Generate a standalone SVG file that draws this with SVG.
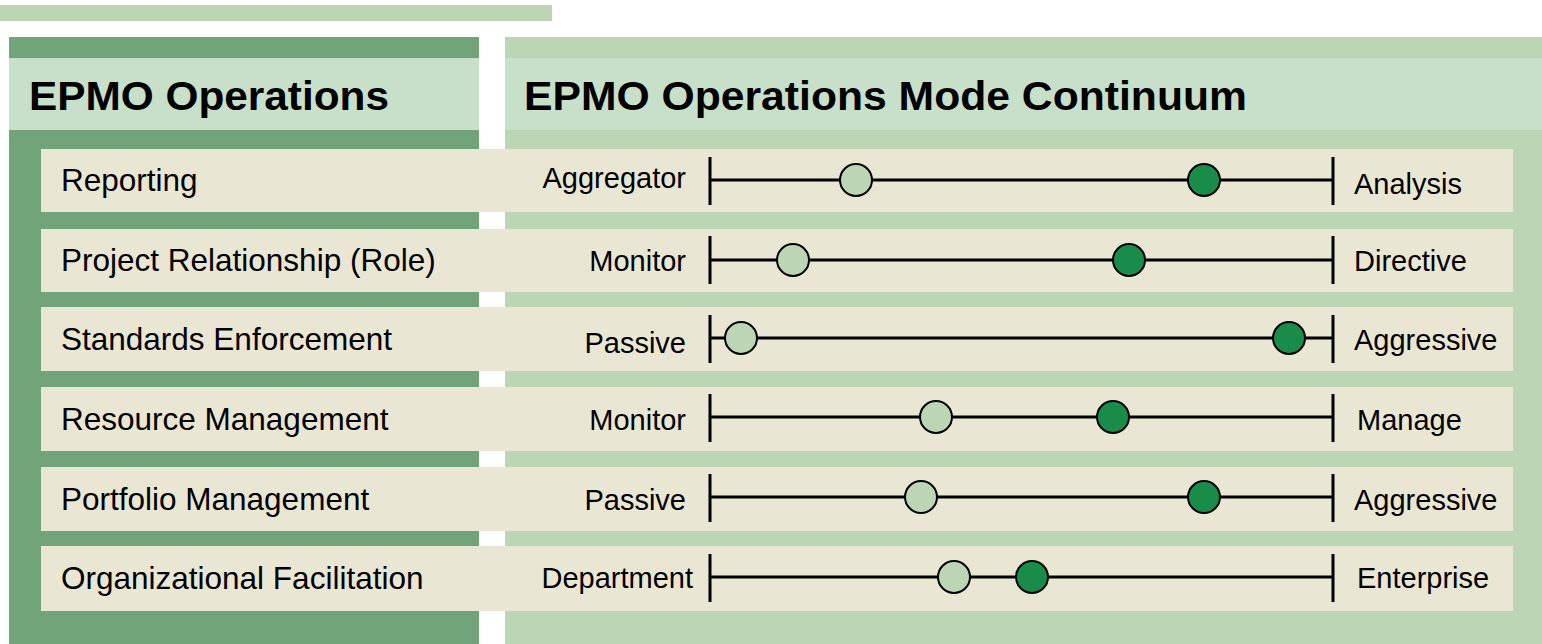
<svg xmlns="http://www.w3.org/2000/svg" width="1542" height="644" viewBox="0 0 1542 644">
<defs>
<style>
.bar{fill:#bcd5b4}
.lp{fill:#72a47a}
.rp{fill:#bcd5b4}
.hb{fill:#c8dfca}
.row{fill:#e9e6d4}
.h{font-family:"Liberation Sans",Arial,sans-serif;font-weight:bold;font-size:40px;fill:#000}
.n{font-family:"Liberation Sans",Arial,sans-serif;font-size:31.5px;fill:#000}
.t{font-family:"Liberation Sans",Arial,sans-serif;font-size:29px;fill:#000}
.r{text-anchor:end}
.ln{stroke:#000;stroke-width:3;fill:none}
.lo{fill:#bcd5b4;stroke:#000;stroke-width:2}
.dk{fill:#1a8c4a;stroke:#000;stroke-width:2}
</style>
</defs>
<rect x="0" y="0" width="1542" height="644" fill="#fff"/>
<rect class="bar" x="0" y="5" width="552" height="16"/>
<g id="panel-left">
<rect class="lp" x="9" y="37" width="470" height="607"/>
<rect class="hb" x="9" y="58" width="470" height="72"/>
<text class="h" x="29" y="110" textLength="360" lengthAdjust="spacingAndGlyphs">EPMO Operations</text>
</g>
<g id="panel-right">
<rect class="rp" x="505" y="37" width="1037" height="607"/>
<rect class="hb" x="505" y="58" width="1037" height="72"/>
<text class="h" x="524" y="110" textLength="723" lengthAdjust="spacingAndGlyphs">EPMO Operations Mode Continuum</text>
</g>
<g id="row-reporting">
<rect class="row" x="41" y="149" width="1472" height="63"/>
<text class="n" x="61" y="191">Reporting</text>
<text class="t r" x="686" y="188">Aggregator</text>
<text class="t" x="1354" y="194">Analysis</text>
</g>
<g id="row-project">
<rect class="row" x="41" y="229" width="1472" height="63"/>
<text class="n" x="61" y="271">Project Relationship (Role)</text>
<text class="t r" x="686" y="271">Monitor</text>
<text class="t" x="1354" y="271">Directive</text>
</g>
<g id="row-standards">
<rect class="row" x="41" y="307" width="1472" height="64"/>
<text class="n" x="61" y="350">Standards Enforcement</text>
<text class="t r" x="686" y="353">Passive</text>
<text class="t" x="1354" y="350">Aggressive</text>
</g>
<g id="row-resource">
<rect class="row" x="41" y="387" width="1472" height="64"/>
<text class="n" x="61" y="430">Resource Management</text>
<text class="t r" x="686" y="430">Monitor</text>
<text class="t" x="1357" y="430">Manage</text>
</g>
<g id="row-portfolio">
<rect class="row" x="41" y="467" width="1472" height="64"/>
<text class="n" x="61" y="510">Portfolio Management</text>
<text class="t r" x="686" y="510">Passive</text>
<text class="t" x="1354" y="510">Aggressive</text>
</g>
<g id="row-org">
<rect class="row" x="41" y="546" width="1472" height="65"/>
<text class="n" x="61" y="589">Organizational Facilitation</text>
<text class="t r" x="693" y="588">Department</text>
<text class="t" x="1357" y="588">Enterprise</text>
</g>
<g id="connectors">
<path class="ln" d="M710 157V205M1333 157V205M710 180H1333"/>
<path class="ln" d="M710 236V284M1333 236V284M710 260H1333"/>
<path class="ln" d="M710 315V363M1333 315V363M710 338H1333"/>
<path class="ln" d="M710 394V442M1333 394V442M710 417H1333"/>
<path class="ln" d="M710 474V522M1333 474V522M710 497H1333"/>
<path class="ln" d="M710 554V602M1333 554V602M710 577H1333"/>
</g>
<g id="markers">
<circle class="lo" cx="856" cy="180" r="16"/><circle class="dk" cx="1204" cy="180" r="16"/>
<circle class="lo" cx="793" cy="260" r="16"/><circle class="dk" cx="1129" cy="260" r="16"/>
<circle class="lo" cx="741" cy="338" r="16"/><circle class="dk" cx="1289" cy="338" r="16"/>
<circle class="lo" cx="936" cy="417" r="16"/><circle class="dk" cx="1113" cy="417" r="16"/>
<circle class="lo" cx="921" cy="497" r="16"/><circle class="dk" cx="1204" cy="497" r="16"/>
<circle class="lo" cx="954" cy="577" r="16"/><circle class="dk" cx="1032" cy="577" r="16"/>
</g>
</svg>
